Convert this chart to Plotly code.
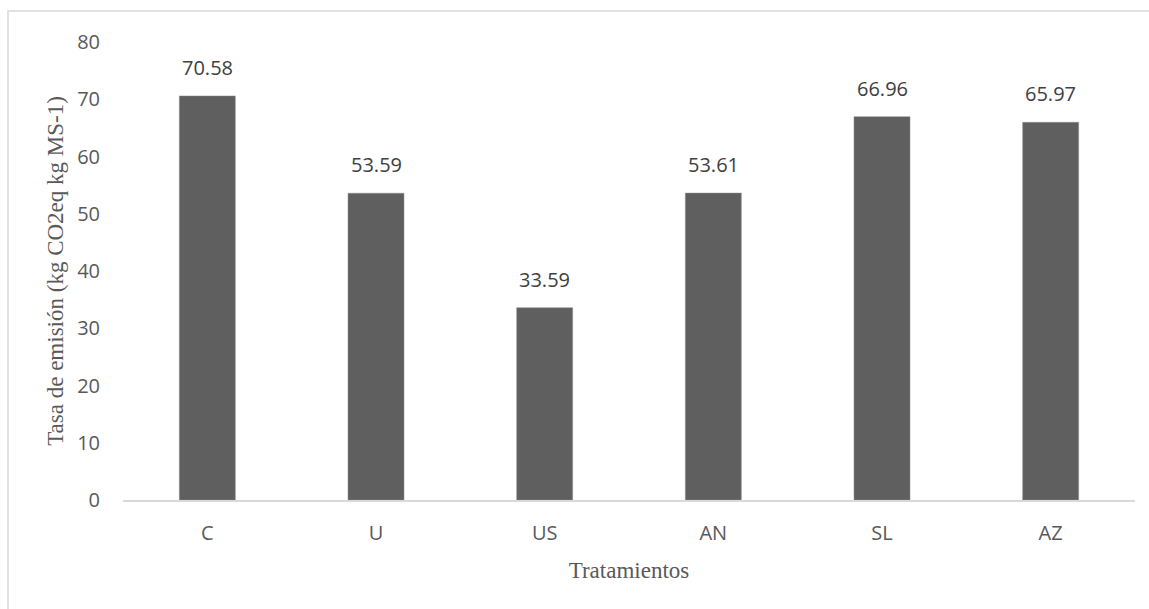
import plotly.graph_objects as go

categories = ["C", "U", "US", "AN", "SL", "AZ"]
values = [70.58, 53.59, 33.59, 53.61, 66.96, 65.97]
labels = ["70.58", "53.59", "33.59", "53.61", "66.96", "65.97"]
y_ticks = [0, 10, 20, 30, 40, 50, 60, 70, 80]

fig = go.Figure(go.Bar(
    x=categories, y=values,
    marker=dict(color="#5f5f5f", line=dict(color="#8c8c8c", width=0.5)),
))

for c, v, t in zip(categories, values, labels):
    fig.add_annotation(x=c, y=v, text=t, showarrow=False, yanchor="bottom",
                       yshift=13, font=dict(family="Open Sans", size=20, color="#404040"))

fig.update_layout(
    width=1149, height=609,
    margin=dict(l=123, r=14, t=42, b=109),
    paper_bgcolor="white", plot_bgcolor="white",
    bargap=0.668, showlegend=False,
    font=dict(family="Open Sans", color="#595959"),
)
fig.update_xaxes(
    showline=True, linecolor="#d9d9d9", linewidth=1.5,
    tickfont=dict(family="Open Sans", size=20, color="#595959"),
    ticks="", ticklabelstandoff=14,
    title=dict(text="Tratamientos", font=dict(family="Liberation Serif", size=23, color="#595959"), standoff=17),
)
fig.update_yaxes(
    range=[0, 80], tickvals=y_ticks, showgrid=False, zeroline=False, showline=False,
    tickfont=dict(family="Open Sans", size=20, color="#595959"),
    ticks="", ticklabelstandoff=22,
    title=dict(text="Tasa de emisión (kg CO2eq kg MS-1)", font=dict(family="Liberation Serif", size=23, color="#595959"), standoff=7),
)
fig.add_shape(type="rect", xref="paper", yref="paper",
              x0=(8 - 123) / 1012, x1=(1165 - 123) / 1012,
              y0=-(640 - 500) / 458, y1=1 + (42 - 11) / 458,
              line=dict(color="#d9d9d9", width=1.5), fillcolor="rgba(0,0,0,0)", layer="below")

fig.write_html("out.html")
